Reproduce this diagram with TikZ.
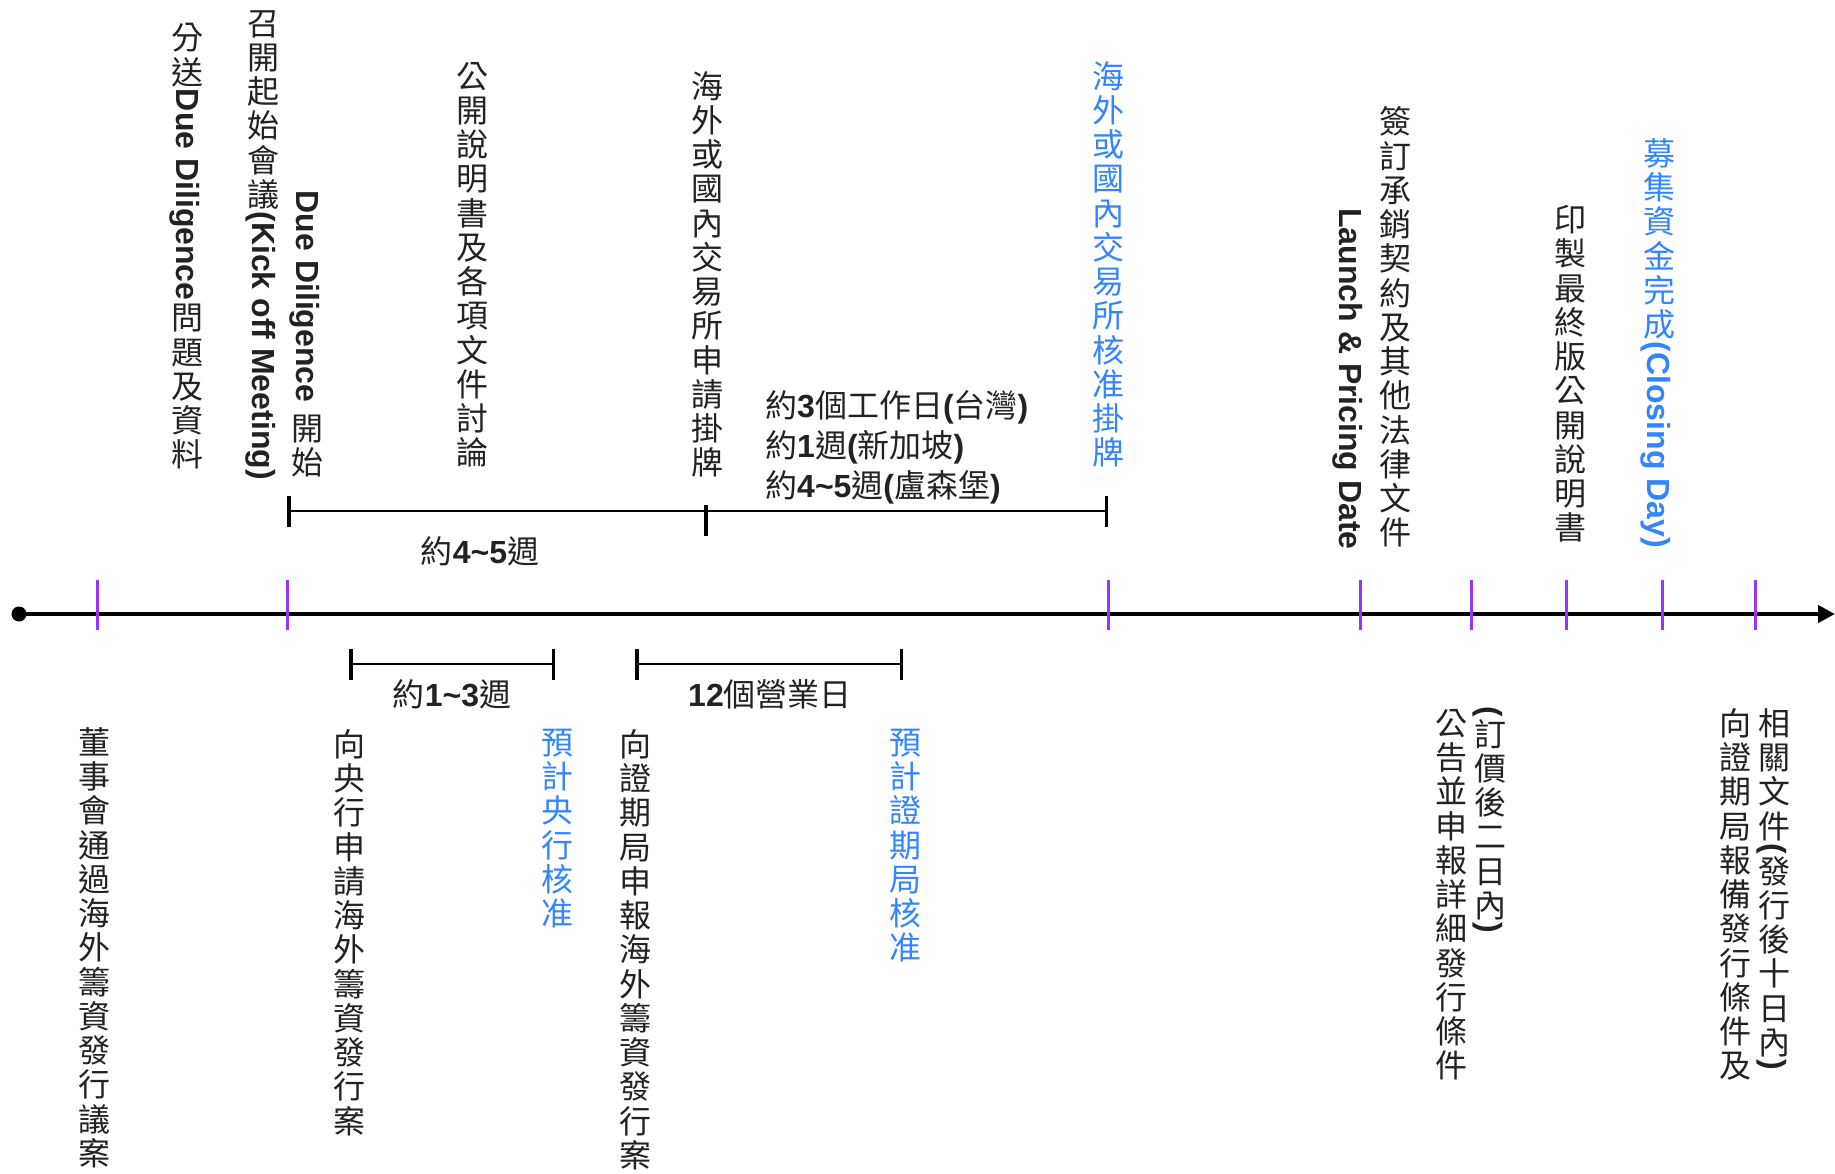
\documentclass[tikz,border=0pt]{standalone}
\usepackage{fontspec}
\usepackage{graphicx}
\setmainfont{Liberation Sans}
\newfontfamily\cjkfont{Noto Sans CJK TC}
\usetikzlibrary{arrows.meta}

\definecolor{tickpurple}{HTML}{9933FF}
\definecolor{okblue}{HTML}{3385FF}
\definecolor{txtgray}{HTML}{222222}

% one upright CJK glyph inside a sideways column
\newcommand{\vchar}[1]{\makebox[1.07em][c]{\raisebox{-0.15em}{\rotatebox{90}{\raisebox{0pt}[0.88em][0.12em]{\cjkfont\mdseries #1}}}}}

\ExplSyntaxOn
\NewDocumentCommand \vtext { m }
  {
    \str_map_inline:nn {#1}
      { \int_compare:nNnTF { `##1 } > { "2E7F } { \vchar {##1} } { ##1 } }
  }
\NewDocumentCommand \htext { m }
  {
    \str_map_inline:nn {#1}
      { \int_compare:nNnTF { `##1 } > { "2E7F } { {\cjkfont\mdseries ##1} } { ##1 } }
  }
\ExplSyntaxOff

\begin{document}
\begin{tikzpicture}
  [x=1pt, y=-1pt,
   every node/.style={inner sep=0pt, font=\fontsize{32}{38}\selectfont\bfseries, text=txtgray},
   vlab/.style={rotate=-90, align=left, anchor=west},
   vlabup/.style={rotate=-90, align=right, anchor=east},
   tick/.style={fill=tickpurple, minimum width=3pt, minimum height=50pt},
   midbar/.style={fill=black, minimum width=3.5pt, minimum height=31pt},
   span/.style={line width=2pt, {Bar[width=31pt,line width=3.5pt]}-{Bar[width=31pt,line width=3.5pt]}}]
  \useasboundingbox (0,0) rectangle (1835,1173);

  % time axis
  \node [circle, fill=black, minimum size=15pt] (o) at (19,614) {};
  \coordinate (e) at (1835,614);
  \draw [line width=4.5pt, -{Triangle[length=17pt,width=17pt]}] (o.center) -- (e);

  % milestones
  \node [tick] (k1) at (97,605) {};
  \node [tick] (k2) at (287,605) {};
  \node [tick] (k3) at (1108,605) {};
  \node [tick] (k4) at (1360,605) {};
  \node [tick] (k5) at (1471,605) {};
  \node [tick] (k6) at (1566,605) {};
  \node [tick] (k7) at (1662,605) {};
  \node [tick] (k8) at (1755,605) {};

  % spans above the axis
  \coordinate (u1) at (287,511);
  \coordinate (u2) at (1108,511);
  \draw [span] (u1) -- (u2);
  \node [midbar] (u3) at (706,520) {};
  \node (w45) at (480,551) {\htext{約4~5週}};
  \node [anchor=west, align=left] (lst) at (765,447)
    {\htext{約3個工作日(台灣)}\\[2pt]\htext{約1週(新加坡)}\\[2pt]\htext{約4~5週(盧森堡)}};

  % spans below the axis
  \coordinate (d1) at (349,664);
  \coordinate (d2) at (555,664);
  \coordinate (d3) at (635,664);
  \coordinate (d4) at (903,664);
  \draw [span] (d1) -- (d2);
  \draw [span] (d3) -- (d4);
  \node (w13) at (452,694) {\htext{約1~3週}};
  \node (bd12) at (770,694) {\htext{12個營業日}};

  % steps above the axis
  \node [vlabup] (dd) at (187,472) {\vtext{分送Due Diligence問題及資料}};
  \node [vlabup] (kick) at (285,480) {\vtext{Due Diligence 開始}\\[6pt]\vtext{召開起始會議(Kick off Meeting)}};
  \node [vlabup] (prosp) at (472,470) {\vtext{公開說明書及各項文件討論}};
  \node [vlabup] (lstapp) at (707,480) {\vtext{海外或國內交易所申請掛牌}};
  \node [vlabup, text=okblue] (lstok) at (1108,470) {\vtext{海外或國內交易所核准掛牌}};
  \node [vlabup] (launch) at (1372,550) {\vtext{簽訂承銷契約及其他法律文件}\\[6pt]\vtext{Launch & Pricing Date}};
  \node [vlabup] (print) at (1570,545) {\vtext{印製最終版公開說明書}};
  \node [vlabup, text=okblue] (closing) at (1658,548) {\vtext{募集資金完成(Closing Day)}};

  % steps below the axis
  \node [vlab] (board) at (94,725) {\vtext{董事會通過海外籌資發行議案}};
  \node [vlab] (cbapp) at (349,727) {\vtext{向央行申請海外籌資發行案}};
  \node [vlab, text=okblue] (cbok) at (557,725) {\vtext{預計央行核准}};
  \node [vlab] (fscapp) at (635,727) {\vtext{向證期局申報海外籌資發行案}};
  \node [vlab, text=okblue] (fscok) at (905,725) {\vtext{預計證期局核准}};
  \node [vlab] (annc) at (1471,706) {\vtext{(訂價後二日內)}\\[1pt]\vtext{公告並申報詳細發行條件}};
  \node [vlab] (rpt) at (1755,706) {\vtext{相關文件(發行後十日內)}\\[1pt]\vtext{向證期局報備發行條件及}};
\end{tikzpicture}
\end{document}
